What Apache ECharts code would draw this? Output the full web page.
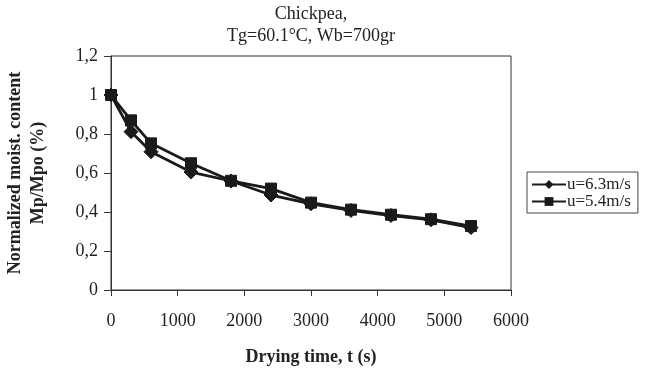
<!DOCTYPE html>
<html>
<head>
<meta charset="utf-8">
<script src="https://cdn.jsdelivr.net/npm/echarts@6/dist/echarts.min.js"></script>
<style>
html,body{margin:0;padding:0;background:#fff;}
#chart{width:645px;height:368px;}
</style>
</head>
<body>
<div id="chart"></div>
<script>
var times = [0, 300, 600, 1200, 1800, 2400, 3000, 3600, 4200, 4800, 5400];
var u63 = [1.0, 0.812, 0.709, 0.605, 0.559, 0.487, 0.442, 0.408, 0.382, 0.360, 0.320];
var u54 = [1.0, 0.870, 0.752, 0.650, 0.560, 0.520, 0.448, 0.412, 0.386, 0.363, 0.328];
var seriesNames = ['u=6.3m/s', 'u=5.4m/s'];
var titleText = 'Chickpea,\nTg=60.1°C, Wb=700gr';
var xName = 'Drying time, t (s)';
var yName = 'Normalized moist. content\nMp/Mpo (%)';

function pairs(xs, ys){ return xs.map(function(x,i){ return [x, ys[i]]; }); }
var FONT = '"Liberation Serif", "Times New Roman", serif';
var chart = echarts.init(document.getElementById('chart'), null, {renderer:'canvas'});
chart.setOption({
  animation: false,
  backgroundColor: '#fff',
  title: {
    text: titleText,
    left: 311, top: 3, textAlign: 'center', padding: 0,
    textStyle: {fontFamily: FONT, fontSize: 18, fontWeight: 'normal', color: '#222', lineHeight: 22}
  },
  grid: {left: 111, right: 134, top: 56, bottom: 78, containLabel: false, outerBoundsMode: 'none',
         show: true, borderColor: '#333', borderWidth: 1, backgroundColor: 'transparent'},
  legend: {
    left: 527, top: 172, orient: 'vertical',
    data: seriesNames,
    itemWidth: 34, itemHeight: 11, itemGap: 0,
    padding: [4, 7, 3, 4],
    borderColor: '#444', borderWidth: 1,
    textStyle: {fontFamily: FONT, fontSize: 17, color: '#222', padding: [0,0,0,-4]}
  },
  xAxis: {
    type: 'value', min: 0, max: 6000, interval: 1000,
    name: xName, nameLocation: 'middle', nameGap: 58,
    nameTextStyle: {fontFamily: FONT, fontSize: 18, fontWeight: 'bold', color: '#222'},
    axisLine: {lineStyle: {color: '#333', width: 1}},
    axisTick: {show: true, inside: false, length: 6, lineStyle: {color: '#333'}},
    axisLabel: {fontFamily: FONT, fontSize: 18, color: '#222', margin: 22,
      formatter: function(v){ return String(v); }},
    splitLine: {show: false}
  },
  yAxis: {
    type: 'value', min: 0, max: 1.2, interval: 0.2,
    name: yName, nameLocation: 'middle', nameGap: 61, nameRotate: 90,
    nameTextStyle: {fontFamily: FONT, fontSize: 18, fontWeight: 'bold', color: '#222', lineHeight: 23},
    axisLine: {show: true, lineStyle: {color: '#333', width: 1}},
    axisTick: {show: true, inside: false, length: 7, lineStyle: {color: '#333'}},
    axisLabel: {
      fontFamily: FONT, fontSize: 18, color: '#222', margin: 13,
      formatter: function(v){ var r = Math.round(v*10)/10; return (r % 1 === 0 ? String(r) : r.toFixed(1)).replace('.', ','); }
    },
    splitLine: {show: false}
  },
  series: [
    {
      name: seriesNames[0], type: 'line', data: pairs(times, u63),
      symbol: 'diamond', symbolSize: 14, showAllSymbol: true,
      lineStyle: {color: '#1a1a1a', width: 2.8},
      itemStyle: {color: '#1a1a1a', borderColor: '#1a1a1a'}
    },
    {
      name: seriesNames[1], type: 'line', data: pairs(times, u54),
      symbol: 'rect', symbolSize: 11, showAllSymbol: true,
      lineStyle: {color: '#1a1a1a', width: 2.8},
      itemStyle: {color: '#1a1a1a', borderColor: '#1a1a1a'}
    }
  ]
});
</script>
</body>
</html>
